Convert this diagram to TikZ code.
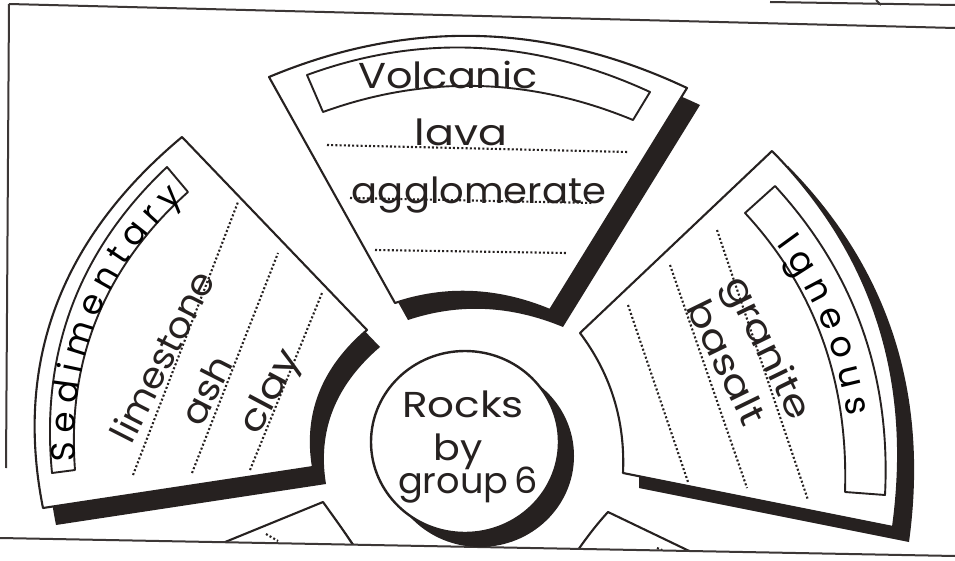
\documentclass[tikz,border=0pt]{standalone}
\usepackage{fontspec}
\setmainfont{Poppins}
\newfontfamily\handtight{Poppins}[WordSpace=0.6]
\newfontfamily\handmid{Poppins}[WordSpace=0.85]
\usetikzlibrary{decorations.text}
\definecolor{ink}{RGB}{38,33,32}
\newcommand\handsize{\fontsize{34}{40}\selectfont}
\newcommand\handbig{\fontsize{35}{40}\selectfont}
\newcommand\volshape{(395,303) -- (269,77) .. controls (408.3,18.7) and (547.7,22.3) .. (687,88) -- (550,310) .. controls (497.7,288.3) and (446,286) .. (395,303) -- cycle}
\newcommand\sedshape{(367,330) -- (182,137) .. controls (60.3,238.7) and (14,362.3) .. (43,508) -- (313,467) .. controls (304.3,414) and (322.3,368.3) .. (367,330) -- cycle}
\newcommand\ignshape{(580,333) -- (772,151) .. controls (873,253.7) and (913.3,379) .. (893,527) -- (623,473) .. controls (625.3,421) and (611,374.3) .. (580,333) -- cycle}
\newcommand\blshape{(323,502) .. controls (333,516) and (344,531) .. (353,545) -- (372,585) -- (120,585) -- cycle}
\newcommand\brshape{(608,512) -- (760,585) -- (562,585) -- (578,550) .. controls (587,537) and (597,524) .. (608,512) -- cycle}
\begin{document}
\begin{tikzpicture}[x=1pt,y=-1pt,line join=round]
\tikzset{
  outline/.style={draw=ink, line width=2.1pt, fill=white},
  band/.style={draw=ink, line width=1.9pt},
  shadowfill/.style={fill=ink},
  dotline/.style={draw=ink, line width=2.1pt, dash pattern=on 2pt off 2.2pt},
  hand/.style={font=\fontsize{36}{42}\selectfont, text=ink, inner sep=0pt},
  frameline/.style={draw=ink!90, line width=2pt},
}
\useasboundingbox (0,0) rectangle (955,561);
\fill[white] (0,0) rectangle (955,561);
% partial sectors at the bottom
\begin{scope}
  \clip (0,0) -- (955,0) -- (955,556) -- (0,538) -- cycle;
  \fill[shadowfill, shift={(13,17)}] \blshape;
  \fill[shadowfill, shift={(13,17)}] \brshape;
  \path[outline] \blshape;
  \path[outline] \brshape;
  \draw[dotline] (266,534) -- (278,541);
  \draw[dotline] (657,548) -- (662,550);
\end{scope}
% frame
\draw[frameline] (9,4) -- (955,28);
\draw[frameline] (9,4) -- (6,468);
\draw[frameline] (0,538) -- (955,556);
\draw[frameline] (770,2) -- (955,5);
\draw[frameline] (876,0) -- (881,5);
% shadows
\fill[shadowfill, shift={(13,17)}] \volshape;
\fill[shadowfill, shift={(13,17)}] \sedshape;
\fill[shadowfill, shift={(16,15)}] \ignshape;
% sectors
\path[outline] \volshape;
\path[outline] \sedshape;
\path[outline] \ignshape;
% title bands
\draw[band] (307,75) .. controls (420.7,33.3) and (535,39) .. (650,92) -- (633,120) .. controls (529.7,77.3) and (426.3,74.7) .. (323,112) -- cycle;
\draw[band] (167,167) .. controls (78.7,250.3) and (40.3,352.3) .. (52,473) -- (75,470) .. controls (66.7,360) and (104.3,267.3) .. (188,192) -- cycle;
\draw[band] (775,186) .. controls (854.3,272.3) and (891,375.3) .. (885,495) -- (845,492) .. controls (848.5,381.7) and (815.1,288.7) .. (745,213) -- cycle;
% dotted writing lines
\draw[dotline] (327,145) -- (628,152);
\draw[dotline] (350,198) -- (593,203);
\draw[dotline] (375,250) -- (567,253);
\draw[dotline] (133,475) -- (238,202);
\draw[dotline] (192,473) -- (278,253);
\draw[dotline] (250,470) -- (322,293);
\draw[dotline] (717,230) -- (808,500);
\draw[dotline] (670,265) -- (747,488);
\draw[dotline] (628,305) -- (688,482);
% titles
\node[hand, anchor=base, xscale=1.15] (volcanic) at (448,89) {Volcanic};
\path[decorate, decoration={text along path, text={|\handtight\handsize|S e d i m e n t a r y}, text align=center}]
  (76,470) .. controls (67.7,360) and (105.3,267.3) .. (189,192);
\path[decorate, decoration={text along path, text={|\handmid\handbig|I g n e o u s}, text align=center}]
  (762,226) .. controls (814.8,289.2) and (842.8,357.9) .. (850,440);
% entries
\node[hand, anchor=base, xscale=1.19] (lava) at (461,146) {lava};
\node[hand, anchor=base, xscale=1.07] (agglo) at (479,204) {agglomerate};
\node[hand, rotate=63, xscale=1.05] (lime) at (162,356) {limestone};
\node[hand, rotate=63, xscale=1.1] (ash) at (206,390) {ash};
\node[hand, rotate=62, xscale=1.2] (clay) at (272,393) {clay};
\node[hand, rotate=-64, xscale=1.2] (granite) at (765,349) {granite};
\node[hand, rotate=-64, xscale=1.18] (basalt) at (727,362) {basalt};
% centre circle
\fill[shadowfill] (480,456) ellipse [x radius=94, y radius=91];
\draw[outline, line width=2.4pt] (465,442) ellipse [x radius=94, y radius=91];
\node[hand, anchor=base, xscale=1.17] (rocks) at (463,417) {Rocks};
\node[hand, anchor=base, xscale=1.1] (by) at (458,460) {by};
\node[hand, anchor=base, xscale=1.02] (group) at (468,493) {group\,6};
\end{tikzpicture}
\end{document}
